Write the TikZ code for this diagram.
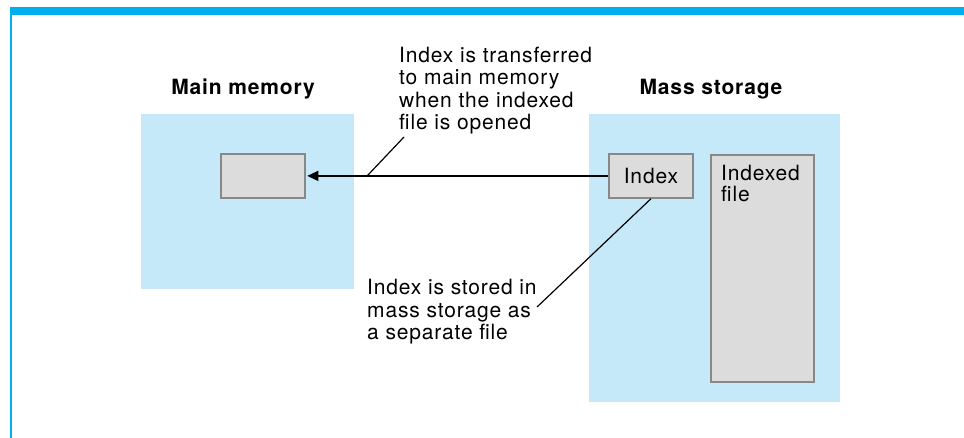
\documentclass[tikz,border=0pt]{standalone}
\usepackage{fontspec}
\setmainfont{TeX Gyre Heros}[LetterSpace=4]
\usetikzlibrary{arrows.meta,positioning}
\definecolor{framecyan}{RGB}{0,174,239}
\definecolor{areablue}{RGB}{197,233,249}
\definecolor{boxgray}{RGB}{220,220,221}
\definecolor{edgegray}{RGB}{136,136,136}
\tikzset{
  area/.style={fill=areablue, draw=none, anchor=north west, inner sep=0pt},
  filebox/.style={fill=boxgray, draw=edgegray, line width=1.8pt, anchor=north west, inner sep=0pt},
  note/.style={align=left, inner sep=0pt, anchor=base west, font=\fontsize{21}{22.6}\selectfont},
  title/.style={inner sep=0pt, anchor=base, font=\fontsize{21}{22.6}\selectfont\bfseries},
}
\begin{document}
\begin{tikzpicture}[x=1pt, y=-1pt, >={Triangle[length=11pt, width=10pt]}]
  \useasboundingbox (0,0) rectangle (964,438);
  % frame
  \fill[framecyan] (10,7) rectangle (964,15);
  \fill[framecyan] (10,15) rectangle (12,438);

  % storage areas
  \node[area, minimum width=213pt, minimum height=175pt] (mainmem) at (141,114) {};
  \node[area, minimum width=251pt, minimum height=288pt] (massstore) at (589,114) {};
  \node[title] (mainlbl) at (243,95) {Main memory};
  \node[title] (masslbl) at (711,95) {Mass storage};

  % files
  \node[filebox, minimum width=84pt, minimum height=44pt] (memidx) at (220,153) {};
  \node[filebox, minimum width=84pt, minimum height=44pt] (idx) at (608,153) {};
  \node[font=\fontsize{21}{22.6}\selectfont, inner sep=0pt] at (idx.center) {Index};
  \node[filebox, minimum width=103pt, minimum height=227pt] (idxfile) at (710,154) {};
  \node[note, font=\fontsize{21}{21}\selectfont] (idxfilelbl) at (721,202) {Indexed\\file};

  % transfer
  \draw[->, line width=1.4pt, shorten >=1.5pt] (idx.west) -- (memidx.east)
    coordinate[pos=0.797] (lead1);

  % notes
  \node[note] (note1) at (399,130) {Index is transferred\\to main memory\\when the indexed\\file is opened};
  \node[note] (note2) at (367,340) {Index is stored in\\mass storage as\\a separate file};
  \coordinate (lead1end) at (404,137);
  \coordinate (lead2end) at (537,307);
  \draw[line width=1.2pt] (lead1) -- (lead1end);
  \draw[line width=1.2pt] (idx.south) -- (lead2end);
\end{tikzpicture}
\end{document}
